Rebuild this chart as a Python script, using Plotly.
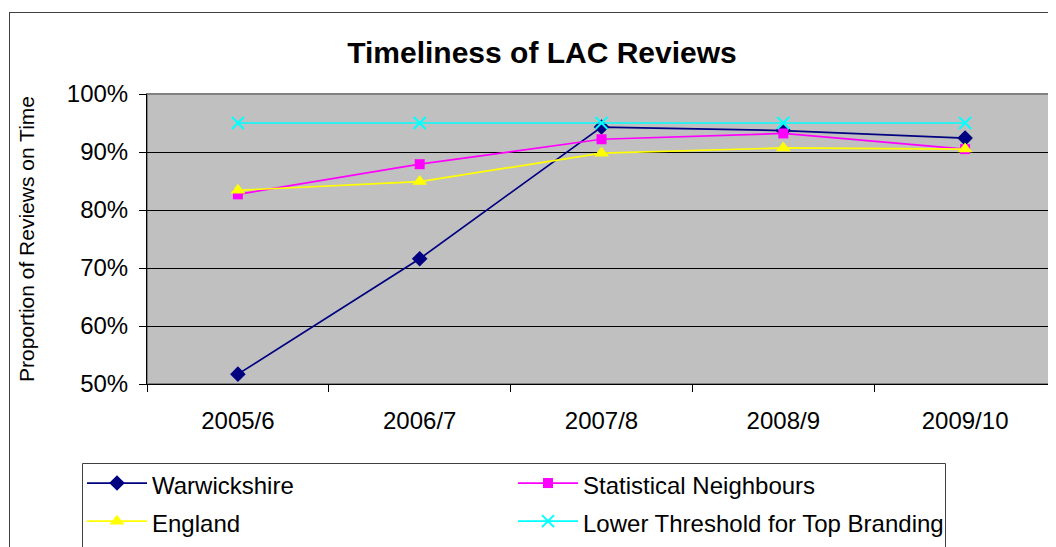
import plotly.graph_objects as go

years = ["2005/6", "2006/7", "2007/8", "2008/9", "2009/10"]
warwickshire = [0.517, 0.716, 0.943, 0.937, 0.924]
stat_neighbours = [0.827, 0.879, 0.922, 0.932, 0.905]
england = [0.834, 0.849, 0.898, 0.907, 0.905]
threshold = [0.95, 0.95, 0.95, 0.95, 0.95]
y_ticks = [0.5, 0.6, 0.7, 0.8, 0.9, 1.0]
series_names = ["Warwickshire", "Statistical Neighbours", "England", "Lower Threshold for Top Branding"]

FONT = "Liberation Sans, Arial, sans-serif"
OFF = 8  # page body margin
W, H = 1056 - OFF, 547 - OFF
L, R, T, B = 147 - OFF, 0, 94 - OFF, 547 - 384


def lg(name):
    return "<span style='font-size:24px'>" + name + "</span>"


fig = go.Figure()
fig.add_trace(go.Scatter(x=years, y=warwickshire, name=lg(series_names[0]), mode="lines+markers",
                         line=dict(color="#000080", width=1.7), legend="legend",
                         marker=dict(symbol="diamond", size=12, color="#000080")))
fig.add_trace(go.Scatter(x=years, y=stat_neighbours, name=lg(series_names[1]), mode="lines+markers",
                         line=dict(color="#FF00FF", width=1.7), legend="legend2",
                         marker=dict(symbol="square", size=10, color="#FF00FF")))
fig.add_trace(go.Scatter(x=years, y=england, name=lg(series_names[2]), mode="lines+markers",
                         line=dict(color="#FFFF00", width=1.7), legend="legend",
                         marker=dict(symbol="triangle-up", size=13, color="#FFFF00")))
fig.add_trace(go.Scatter(x=years, y=threshold, name=lg(series_names[3]), mode="lines+markers",
                         line=dict(color="#00FFFF", width=1.7), legend="legend2",
                         marker=dict(symbol="x-thin", size=12, color="#00FFFF",
                                     line=dict(color="#00FFFF", width=2))))


def px_x(p):
    return (p - OFF - L) / (W - L - R)


def px_y(p):
    return (H - B - (p - OFF)) / (H - T - B)


shapes = [
    dict(type="rect", xref="paper", yref="paper", x0=0, x1=1, y0=0, y1=1,
         line=dict(color="#808080", width=2), layer="below"),
    dict(type="line", xref="paper", yref="paper", x0=px_x(9.5), x1=px_x(9.5), y0=px_y(12), y1=px_y(560),
         line=dict(color="#404040", width=1)),
    dict(type="line", xref="paper", yref="paper", x0=px_x(9.5), x1=px_x(1070), y0=px_y(12.5), y1=px_y(12.5),
         line=dict(color="#404040", width=1)),
    # legend frame
    dict(type="rect", xref="paper", yref="paper", x0=px_x(82.5), x1=px_x(945.5), y0=px_y(463.5), y1=px_y(560),
         line=dict(color="#404040", width=1), fillcolor="white", layer="below"),
]

legend_common = dict(orientation="v", yanchor="top", y=px_y(459), xanchor="left",
                     borderwidth=0, bgcolor="rgba(0,0,0,0)",
                     font=dict(size=27, family=FONT), itemwidth=60, traceorder="normal")

fig.update_layout(
    width=W, height=H,
    margin=dict(l=L, r=R, t=T, b=B, autoexpand=False),
    paper_bgcolor="white",
    plot_bgcolor="#C0C0C0",
    font=dict(family=FONT, color="black", size=24),
    title=dict(text="<b>Timeliness of LAC Reviews</b>", x=(542 - OFF) / W, xanchor="center",
               y=1 - (52 - OFF) / H, yanchor="middle", font=dict(size=30, family=FONT)),
    xaxis=dict(type="category", showgrid=False, showline=True, linecolor="black", linewidth=1,
               ticks="outside", tickson="boundaries", ticklen=7, tickcolor="black",
               tickfont=dict(size=24), range=[-0.5, 4.5], fixedrange=True, ticklabelstandoff=15),
    yaxis=dict(range=[0.5, 1.0], tickvals=y_ticks, tickformat=".0%", showgrid=True,
               gridcolor="black", gridwidth=1, showline=True, linecolor="black", linewidth=1,
               ticks="outside", ticklen=7, tickcolor="black", tickfont=dict(size=24),
               zeroline=False, ticklabelstandoff=6,
               title=dict(text="Proportion of Reviews on Time", font=dict(size=21), standoff=26)),
    legend=dict(x=px_x(82), **legend_common),
    legend2=dict(x=px_x(513), **legend_common),
    shapes=shapes,
    showlegend=True,
)

fig.write_html("out.html")
